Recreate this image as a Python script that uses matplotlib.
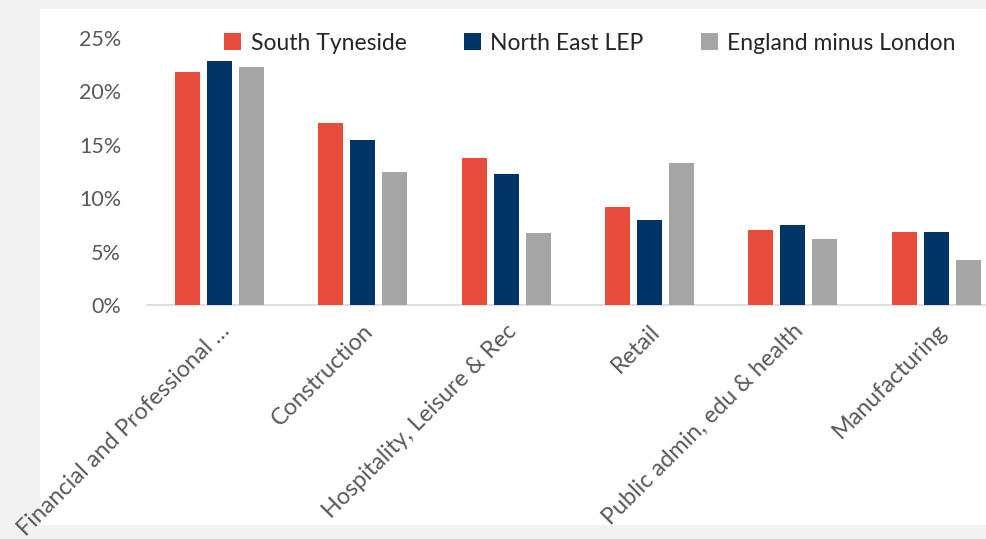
import matplotlib.pyplot as plt
import numpy as np
from matplotlib.patches import Rectangle
from matplotlib.ticker import PercentFormatter

plt.rcParams['font.family'] = ['Lato', 'DejaVu Sans']

sectors = ['Financial and Professional …', 'Construction', 'Hospitality, Leisure & Rec',
           'Retail', 'Public admin, edu & health', 'Manufacturing']
south_tyneside = [21.8, 17.0, 13.8, 9.2, 7.0, 6.85]
north_east_lep = [22.85, 15.45, 12.3, 8.0, 7.5, 6.85]
england_ex_london = [22.3, 12.45, 6.75, 13.3, 6.2, 4.2]

series = ['South Tyneside', 'North East LEP', 'England minus London']
colours = ['#E84C3D', '#003366', '#A5A5A5']

fig = plt.figure(figsize=(9.87, 5.39), dpi=100, facecolor='#F2F2F2')
# white card behind the chart
fig.patches.append(Rectangle((40 / 987, 14 / 539), 1, 516 / 539, transform=fig.transFigure,
                             facecolor='white', edgecolor='none', zorder=-5))

ax = fig.add_axes([147.5 / 987, 1 - 305 / 539, 860.5 / 987, 267 / 539])
ax.set_facecolor('none')

x = np.arange(len(sectors))
step = 0.223
w = 0.174
for i, (vals, name, c) in enumerate(zip([south_tyneside, north_east_lep, england_ex_london],
                                         series, colours)):
    ax.bar(x + (i - 1) * step, vals, width=w, color=c, label=name, zorder=3)

ax.set_xlim(-0.5, len(sectors) - 0.5)
ax.set_ylim(0, 25)
ax.set_yticks([0, 5, 10, 15, 20, 25])
ax.yaxis.set_major_formatter(PercentFormatter(decimals=0))
ax.tick_params(axis='y', length=0, pad=19, labelsize=15.5, labelcolor='#595959')
ax.tick_params(axis='x', length=0, pad=11, labelsize=16.8, labelcolor='#595959')
ax.set_xticks(x)
ax.set_xticklabels(sectors, rotation=45, ha='right', rotation_mode='anchor')

for s in ['top', 'right', 'left']:
    ax.spines[s].set_visible(False)
ax.spines['bottom'].set_color('#D9D9D9')
ax.spines['bottom'].set_linewidth(1.2)

fig.legend(loc='center', bbox_to_anchor=(590 / 987, 1 - 43 / 539), ncol=3, frameon=False,
           fontsize=16.5, handlelength=0.75, handleheight=0.75, handletextpad=0.4,
           columnspacing=2.5, labelcolor='#262626')

fig.savefig('out.png', dpi=100, facecolor=fig.get_facecolor())
